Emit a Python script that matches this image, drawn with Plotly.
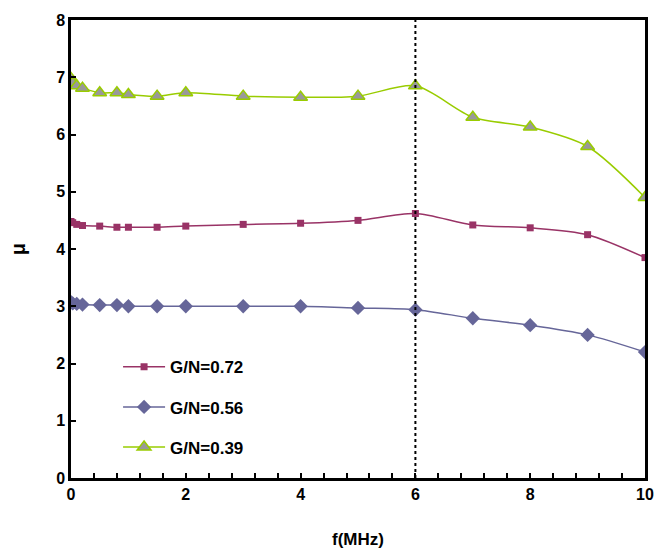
import plotly.graph_objects as go

freq = [0, 0.03, 0.1, 0.2, 0.5, 0.8, 1, 1.5, 2, 3, 4, 5, 6, 7, 8, 9, 10]
mu_072 = [4.48, 4.46, 4.43, 4.41, 4.40, 4.38, 4.38, 4.38, 4.40, 4.43, 4.45, 4.50, 4.62, 4.42, 4.37, 4.25, 3.85]
mu_056 = [3.07, 3.05, 3.04, 3.03, 3.02, 3.02, 3.00, 3.00, 3.00, 3.00, 3.00, 2.97, 2.94, 2.79, 2.67, 2.50, 2.20]
mu_039 = [6.98, 6.90, 6.85, 6.81, 6.73, 6.73, 6.70, 6.67, 6.73, 6.67, 6.65, 6.67, 6.85, 6.30, 6.13, 5.79, 4.90]
labels = ["G/N=0.72", "G/N=0.56", "G/N=0.39"]
x_ticks = [0, 2, 4, 6, 8, 10]
y_ticks = [0, 1, 2, 3, 4, 5, 6, 7, 8]
marker_line_x = 6

FONT = "Liberation Sans, Arial, sans-serif"

fig = go.Figure()
fig.add_trace(go.Scatter(
    x=freq, y=mu_072, name=labels[0], mode="lines+markers", legendgroup="a",
    line=dict(color="#993366", width=1.5, shape="spline", smoothing=0.8),
    marker=dict(symbol="square", size=7, color="#993366")))
fig.add_trace(go.Scatter(
    x=freq, y=mu_056, name=labels[1], mode="lines+markers", legendgroup="b",
    line=dict(color="#666699", width=1.5, shape="spline", smoothing=0.8),
    marker=dict(symbol="diamond", size=11, color="#666699")))
fig.add_trace(go.Scatter(
    x=freq, y=mu_039, name=labels[2], mode="lines+markers", legendgroup="c",
    line=dict(color="#99CC00", width=1.5, shape="spline", smoothing=0.8),
    marker=dict(symbol="triangle-up", size=12, color="#999999",
                line=dict(color="#99CC00", width=1.5))))

fig.add_shape(type="line", x0=marker_line_x, x1=marker_line_x, y0=0, y1=8,
              xref="x", yref="y", line=dict(color="black", width=2, dash="dot"))

fig.update_layout(
    width=656, height=552,
    margin=dict(l=71, r=11, t=20, b=74, autoexpand=False),
    paper_bgcolor="white", plot_bgcolor="white",
    font=dict(family=FONT, color="black", size=16, weight="bold"),
    showlegend=True,
    legend=dict(x=0.082, y=0.281, xanchor="left", yanchor="top",
                bgcolor="rgba(0,0,0,0)", traceorder="grouped",
                tracegroupgap=15, itemwidth=42,
                font=dict(family=FONT, size=17, weight="bold", color="black")),
    xaxis=dict(range=[0, 10], tickvals=x_ticks, ticks="inside", ticklen=5,
               tickwidth=1.5, tickcolor="black", automargin=False,
               showline=True, linecolor="black", linewidth=2.5, mirror=True,
               showgrid=False, zeroline=False,
               minor=dict(dtick=0.4, ticks="inside", ticklen=5, tickwidth=1.5,
                          tickcolor="black", showgrid=False),
               tickfont=dict(family=FONT, size=16, weight="bold"),
               title=dict(text="f(MHz)", font=dict(family=FONT, size=17, weight="bold"),
                          standoff=32)),
    yaxis=dict(range=[0, 8], tickvals=y_ticks, ticks="inside", ticklen=5,
               tickwidth=1.5, tickcolor="black", automargin=False,
               showline=True, linecolor="black", linewidth=2.5, mirror=True,
               showgrid=False, zeroline=False,
               tickfont=dict(family=FONT, size=16, weight="bold"),
               title=dict(text="μ", font=dict(family=FONT, size=20, weight="bold"),
                          standoff=26)),
)

fig.write_html(
    "out.html",
    config={"displayModeBar": False},
    post_script="document.body.style.margin='0';document.body.style.overflow='hidden';",
)
